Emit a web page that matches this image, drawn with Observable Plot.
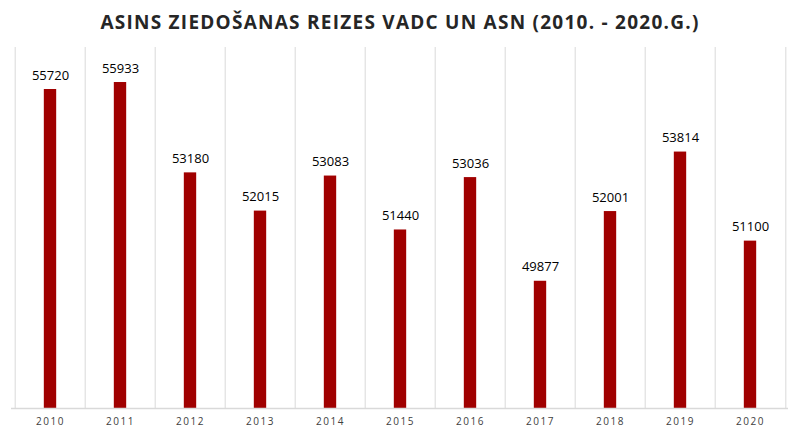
<!DOCTYPE html>
<html>
<head>
<meta charset="utf-8">
<script src="https://cdn.jsdelivr.net/npm/d3@7"></script>
<script src="https://cdn.jsdelivr.net/npm/@observablehq/plot@0.6"></script>
<style>
  body { margin: 0; background: #fff; }
  #title { height: 40px; line-height: 45px; text-align: center; font-family: "Open Sans", sans-serif; font-weight: bold; font-size: 19px; letter-spacing: 1.25px; color: #262626; }
</style>
</head>
<body>
<div id="title">ASINS ZIEDOŠANAS REIZES VADC UN ASN (2010. - 2020.G.)</div>
<div id="chart"></div>
<script>
const years = ["2010","2011","2012","2013","2014","2015","2016","2017","2018","2019","2020"];
const values = [55720, 55933, 53180, 52015, 53083, 51440, 53036, 49877, 52001, 53814, 51100];
const yMin = 46000, yMax = 57000;

const data = years.map((y, i) => ({year: y, value: values[i]}));
const W = 800, mL = 11, mR = 12;
const bw = (W - mL - mR) / years.length;
const barW = 13;
const inset = (bw - barW) / 2;

const chart = Plot.plot({
  width: W,
  height: 396,
  marginTop: 7,
  marginBottom: 28,
  marginLeft: mL,
  marginRight: mR,
  style: {fontFamily: "Open Sans, sans-serif", background: "#fff"},
  x: {domain: years, padding: 0, label: null, tickSize: 0, tickPadding: 9},
  y: {domain: [yMin, yMax], axis: null},
  marks: [
    Plot.ruleX(years, {x: d => d, dx: -bw / 2, stroke: "#d9d9d9", strokeWidth: 1}),
    Plot.ruleX([years[years.length - 1]], {x: d => d, dx: bw / 2, stroke: "#d9d9d9", strokeWidth: 1}),
    Plot.barY(data, {x: "year", y1: yMin, y2: "value", fill: "#a00000", insetLeft: inset, insetRight: inset}),
    Plot.ruleY([yMin], {stroke: "#d9d9d9", strokeWidth: 1.5}),
    Plot.text(data, {x: "year", y: "value", text: d => String(d.value), dy: -14, fontSize: 13, fill: "#000"})
  ]
});
chart.querySelectorAll('[aria-label="x-axis tick label"] text').forEach(t => {
  t.style.fontSize = "10px";
  t.style.letterSpacing = "1.5px";
  t.style.fill = "#404040";
});
document.getElementById("chart").appendChild(chart);
</script>
</body>
</html>
